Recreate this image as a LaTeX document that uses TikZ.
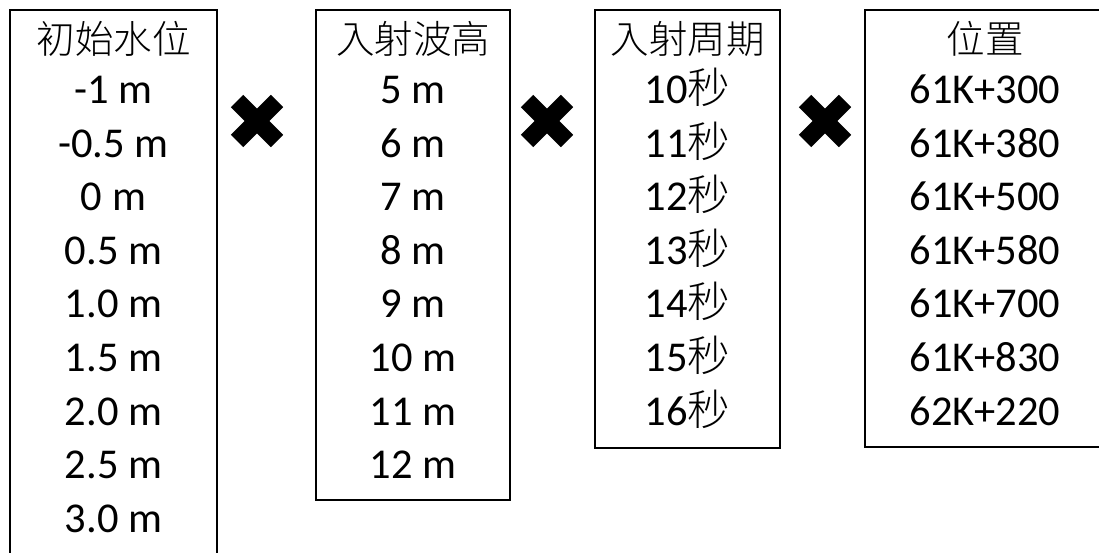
\documentclass[tikz,border=0pt]{standalone}
\usepackage{fontspec}
\setmainfont{Carlito}
\newfontfamily\cjk{Noto Sans CJK TC Light}
\newfontfamily\cjkr{Noto Sans CJK TC}
\begin{document}
\begin{tikzpicture}[x=1pt,y=-1pt,
  frame/.style={draw=black,line width=2.4pt},
  txt/.style={anchor=base,inner sep=0pt,font=\fontsize{42.5}{44}\selectfont},
  head/.style={anchor=base,inner sep=0pt,font=\fontsize{38.5}{40}\selectfont\cjk},
  cross/.style={line width=17.5pt,line cap=butt,draw=black}]
\useasboundingbox (0,0) rectangle (1099,553);
\fill[white] (0,0) rectangle (1099,553);
% frames
\draw[frame] (10,560) -- (10,10) -- (217,10) -- (217,560);
\draw[frame] (316,10) rectangle (510,500);
\draw[frame] (595,10) rectangle (780,448);
\draw[frame] (1110,447) -- (865,447) -- (865,10) -- (1110,10);
% crosses
\foreach \cx/\nm in {257/xa,547/xb,825/xc}{
  \coordinate (\nm) at (\cx,121);
  \draw[cross] ([shift={(-20,-20)}]\nm) -- ([shift={(20,20)}]\nm);
  \draw[cross] ([shift={(-20,20)}]\nm) -- ([shift={(20,-20)}]\nm);
}
% column 1
\node[head] (h1) at (113.5,54) {初始水位};
\foreach \t [count=\i] in {-1 m,-0.5 m,0 m,0.5 m,1.0 m,1.5 m,2.0 m,2.5 m,3.0 m}{
  \node[txt] (a\i) at (113.5,{103.5+(\i-1)*53.6}) {\t};
}
% column 2
\node[head] (h2) at (413,54) {入射波高};
\foreach \t [count=\i] in {5 m,6 m,7 m,8 m,9 m,10 m,11 m,12 m}{
  \node[txt] (b\i) at (413,{103.5+(\i-1)*53.6}) {\t};
}
% column 3
\node[head] (h3) at (687.5,54) {入射周期};
\foreach \t [count=\i] in {10,11,12,13,14,15,16}{
  \node[txt] (c\i) at (687.5,{103.5+(\i-1)*53.6}) {\t{\cjk 秒}};
}
% column 4
\node[head] (h4) at (985,54) {位置};
\foreach \t [count=\i] in {61K+300,61K+380,61K+500,61K+580,61K+700,61K+830,62K+220}{
  \node[txt] (d\i) at (985,{103.5+(\i-1)*53.6}) {\t};
}
\end{tikzpicture}
\end{document}
